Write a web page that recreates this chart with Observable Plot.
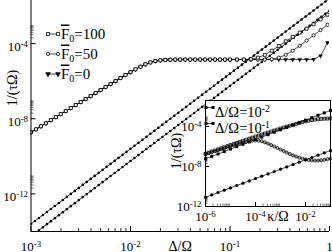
<!DOCTYPE html>
<html><head><meta charset="utf-8">
<script src="https://cdn.jsdelivr.net/npm/d3@7"></script>
<script src="https://cdn.jsdelivr.net/npm/@observablehq/plot@0.6"></script>
<style>
html,body{margin:0;padding:0;background:#fff;}
#wrap{position:relative;width:332px;height:252px;overflow:hidden;background:#fff;}
#wrap svg{position:absolute;}
#wrap svg, #wrap svg text, #wrap svg tspan{font-family:"Liberation Serif","Times New Roman","DejaVu Serif",serif !important;}
</style></head><body><div id="wrap"></div>
<script>
// ---------------- main panel: axes ----------------
const mainXMajor = [1e-3, 1e-2, 1e-1, 1];
const mainXLabels = ["10^-3", "10^-2", "10^-1", "1"];
const mainXMinor = [2e-3,3e-3,4e-3,5e-3,6e-3,7e-3,8e-3,9e-3,2e-2,3e-2,4e-2,5e-2,6e-2,7e-2,8e-2,9e-2,2e-1,3e-1,4e-1,5e-1,6e-1,7e-1,8e-1,9e-1];
const mainYMajor = [1e-12, 1e-8, 1e-4];
const mainYLabels = ["10^-12", "10^-8", "10^-4"];
const mainYMinor = [2e-12,3e-12,4e-12,5e-12,6e-12,7e-12,8e-12,9e-12,2e-8,3e-8,4e-8,5e-8,6e-8,7e-8,8e-8,9e-8,2e-4,3e-4,4e-4,5e-4,6e-4,7e-4,8e-4,9e-4];

// ---------------- main panel: F0 curves (log10 values) ----------------
const lxF = [-3.00,-2.95,-2.90,-2.85,-2.80,-2.75,-2.70,-2.65,-2.60,-2.55,-2.50,-2.45,-2.40,-2.35,-2.30,-2.25,-2.20,-2.15,-2.10,-2.05,-2.00,-1.95,-1.90,-1.85,-1.80,-1.75,-1.70,-1.65,-1.60,-1.55,-1.50,-1.45,-1.40,-1.35,-1.30,-1.25,-1.20,-1.15,-1.10,-1.05,-1.00,
  -0.93,-0.86,-0.79,-0.72,-0.65,-0.58,-0.51,-0.44,-0.37,-0.30,-0.23,-0.16,-0.09,-0.02];
const lyShared = [-8.72,-8.56,-8.40,-8.24,-8.07,-7.91,-7.75,-7.59,-7.43,-7.27,-7.11,-6.95,-6.79,-6.63,-6.47,-6.31,-6.15,-5.99,-5.83,-5.67,-5.52,-5.37,-5.23,-5.10,-5.00,-4.93,-4.89,-4.87,-4.86,-4.85,-4.85,-4.85,-4.85,-4.85,-4.85,-4.85,-4.85,-4.85,-4.85,-4.85,-4.85];
const lyTail100 = [-4.85,-4.85,-4.83,-4.75,-4.60,-4.38,-4.13,-3.88,-3.64,-3.42,-3.21,-2.97,-2.71,-2.46];
const lyTail50  = [-4.85,-4.85,-4.85,-4.85,-4.85,-4.83,-4.75,-4.60,-4.38,-4.12,-3.84,-3.56,-3.28,-3.00];
const lyTail0   = [-4.85,-4.85,-4.85,-4.85,-4.85,-4.85,-4.85,-4.85,-4.85,-4.85,-4.85,-4.84,-4.65,-3.95];

// ---------------- main panel: dotted power-law lines ----------------
const lxD = [-3.00,-2.96,-2.92,-2.88,-2.84,-2.80,-2.76,-2.72,-2.68,-2.64,-2.60,-2.56,-2.52,-2.48,-2.44,-2.40,-2.36,-2.32,-2.28,-2.24,-2.20,-2.16,-2.12,-2.08,-2.04,-2.00,-1.96,-1.92,-1.88,-1.84,-1.80,-1.76,-1.72,-1.68,-1.64,-1.60,-1.56,-1.52,-1.48,-1.44,-1.40,-1.36,-1.32,-1.28,-1.24,-1.20,-1.16,-1.12,-1.08,-1.04,-1.00,-0.96,-0.92,-0.88,-0.84,-0.80,-0.76,-0.72,-0.68,-0.64,-0.60,-0.56,-0.52,-0.48,-0.44,-0.40,-0.36,-0.32,-0.28,-0.24,-0.20,-0.16,-0.12,-0.08,-0.04,0.00];
const lyD1 = [-13.60,-13.44,-13.28,-13.12,-12.96,-12.80,-12.64,-12.48,-12.32,-12.16,-12.00,-11.84,-11.68,-11.52,-11.36,-11.20,-11.04,-10.88,-10.72,-10.56,-10.40,-10.24,-10.08,-9.92,-9.76,-9.60,-9.44,-9.28,-9.12,-8.96,-8.80,-8.64,-8.48,-8.32,-8.16,-8.00,-7.84,-7.68,-7.52,-7.36,-7.20,-7.04,-6.88,-6.72,-6.56,-6.40,-6.24,-6.08,-5.92,-5.76,-5.60,-5.44,-5.28,-5.12,-4.96,-4.80,-4.64,-4.48,-4.32,-4.16,-4.00,-3.84,-3.68,-3.52,-3.36,-3.20,-3.04,-2.88,-2.72,-2.56,-2.40,-2.24,-2.08,-1.92,-1.76,-1.60];
const lyD2 = [-14.25,-14.09,-13.93,-13.77,-13.61,-13.45,-13.29,-13.13,-12.97,-12.81,-12.65,-12.49,-12.33,-12.17,-12.01,-11.85,-11.69,-11.53,-11.37,-11.21,-11.05,-10.89,-10.73,-10.57,-10.41,-10.25,-10.09,-9.93,-9.77,-9.61,-9.45,-9.29,-9.13,-8.97,-8.81,-8.65,-8.49,-8.33,-8.17,-8.01,-7.85,-7.69,-7.53,-7.37,-7.21,-7.05,-6.89,-6.73,-6.57,-6.41,-6.25,-6.09,-5.93,-5.77,-5.61,-5.45,-5.29,-5.13,-4.97,-4.81,-4.65,-4.49,-4.33,-4.17,-4.01,-3.85,-3.69,-3.53,-3.37,-3.21,-3.05,-2.89,-2.73,-2.57,-2.41,-2.25];

// ---------------- inset: axes ----------------
const insetXMajor = [1e-6, 1e-4, 1e-2];
const insetXLabels = ["10^-6", "10^-4", "10^-2"];
const insetXMinor = [2e-6,3e-6,4e-6,5e-6,6e-6,7e-6,8e-6,9e-6,2e-4,3e-4,4e-4,5e-4,6e-4,7e-4,8e-4,9e-4,2e-2,3e-2,4e-2,5e-2,6e-2,7e-2,8e-2,9e-2];
const insetYMajor = [1e-12, 1e-8, 1e-4];
const insetYLabels = ["10^-12", "10^-8", "10^-4"];
const insetYMinor = [2e-12,3e-12,4e-12,5e-12,6e-12,7e-12,8e-12,9e-12,2e-8,3e-8,4e-8,5e-8,6e-8,7e-8,8e-8,9e-8,2e-4,3e-4,4e-4,5e-4,6e-4,7e-4,8e-4,9e-4];

// ---------------- inset: series (log10 values) ----------------
const lkF = [-6.00,-5.75,-5.50,-5.25,-5.00,-4.75,-4.50,-4.25,-4.00,-3.75,-3.50,-3.25,-3.00,-2.75,-2.50,-2.25,-2.00,-1.75,-1.50,-1.25,-1.00];
const lyFilledCirc = [-11.07,-10.84,-10.60,-10.37,-10.14,-9.90,-9.67,-9.44,-9.20,-8.97,-8.74,-8.50,-8.27,-8.04,-7.80,-7.57,-7.34,-7.10,-6.87,-6.64,-6.40];
const lyFilledSq = [-7.23,-6.99,-6.75,-6.51,-6.26,-6.02,-5.78,-5.54,-5.30,-5.06,-4.82,-4.57,-4.33,-4.09,-3.85,-3.61,-3.37,-3.12,-2.88,-2.64,-2.40];
const lkO = [-6.000,-5.875,-5.750,-5.625,-5.500,-5.375,-5.250,-5.125,-5.000,-4.875,-4.750,-4.625,-4.500,-4.375,-4.250,-4.125,-4.000,-3.875,-3.750,-3.625,-3.500,-3.375,-3.250,-3.125,-3.000,-2.875,-2.750,-2.625,-2.500,-2.375,-2.250,-2.125,-2.000,-1.875,-1.750,-1.625,-1.500,-1.375,-1.250,-1.125,-1.000];
const lyOpenSq = [-6.73,-6.62,-6.51,-6.40,-6.29,-6.18,-6.07,-5.96,-5.85,-5.74,-5.64,-5.53,-5.43,-5.32,-5.21,-5.11,-5.00,-4.90,-4.80,-4.70,-4.60,-4.50,-4.40,-4.30,-4.20,-4.10,-4.01,-3.92,-3.83,-3.74,-3.64,-3.55,-3.48,-3.42,-3.36,-3.31,-3.27,-3.24,-3.22,-3.21,-3.20];
const lyOpenCirc = [-6.78,-6.68,-6.58,-6.48,-6.38,-6.28,-6.18,-6.08,-5.98,-5.88,-5.79,-5.70,-5.62,-5.54,-5.47,-5.42,-5.40,-5.42,-5.48,-5.58,-5.71,-5.85,-6.00,-6.15,-6.30,-6.45,-6.60,-6.75,-6.89,-7.01,-7.12,-7.21,-7.29,-7.35,-7.39,-7.41,-7.41,-7.38,-7.33,-7.27,-7.20];

// ---------------- build tables ----------------
const pts = (xs, ys) => xs.map((v, i) => ({x: 10 ** v, y: 10 ** ys[i]}));
const sF100 = pts(lxF, lyShared.concat(lyTail100));
const sF50 = pts(lxF, lyShared.concat(lyTail50));
const sF0 = pts(lxF, lyShared.concat(lyTail0));
const sD1 = pts(lxD, lyD1);
const sD2 = pts(lxD, lyD2);
const iFC = pts(lkF, lyFilledCirc);
const iFS = pts(lkF, lyFilledSq);
const iOS = pts(lkO, lyOpenSq);
const iOC = pts(lkO, lyOpenCirc);

const triDown = {draw(c, size) {
  const s = Math.sqrt(4 * size / Math.sqrt(3));
  const t = s / (2 * Math.sqrt(3));
  c.moveTo(-s / 2, -t); c.lineTo(s / 2, -t); c.lineTo(0, 2 * t); c.closePath();
}};

const FONT = "Liberation Serif, Times New Roman, serif";

// ---------------- main plot ----------------
const W = 332, H = 252, mL = 30.5, mR = 3, mT = 0, mB = 21;
const fw = W - mL - mR, fh = H - mT - mB;
const main = Plot.plot({
  width: W, height: H, marginLeft: mL, marginRight: mR, marginTop: mT, marginBottom: mB,
  x: {type: "log", domain: [1e-3, 1], axis: null},
  y: {type: "log", domain: [1e-14, 10 ** -1.707], axis: null},
  style: {background: "transparent", fontFamily: FONT, fontSize: "13px", color: "black", overflow: "visible"},
  marks: [
    Plot.tickX(mainXMajor, {x: d => d, insetTop: fh - 5, stroke: "black"}),
    Plot.tickX(mainXMinor, {x: d => d, insetTop: fh - 3, stroke: "black", strokeWidth: 0.8}),
    Plot.tickY(mainYMajor, {y: d => d, insetRight: fw - 5, stroke: "black"}),
    Plot.tickY(mainYMinor, {y: d => d, insetRight: fw - 3, stroke: "#555", strokeWidth: 0.8}),
    Plot.line(sD1, {x: "x", y: "y", stroke: "black", strokeWidth: 0.8, clip: true}),
    Plot.dot(sD1, {x: "x", y: "y", r: 1.3, fill: "black", clip: true}),
    Plot.line(sD2, {x: "x", y: "y", stroke: "black", strokeWidth: 0.8, clip: true}),
    Plot.dot(sD2, {x: "x", y: "y", r: 1.3, fill: "black", clip: true}),
    Plot.line(sF0, {x: "x", y: "y", stroke: "black", strokeWidth: 0.7, clip: true}),
    Plot.dot(sF0, {x: "x", y: "y", r: 1.7, symbol: triDown, fill: "black", clip: true}),
    Plot.line(sF50, {x: "x", y: "y", stroke: "black", strokeWidth: 0.7, clip: true}),
    Plot.dot(sF50, {x: "x", y: "y", r: 1.6, fill: "white", stroke: "black", strokeWidth: 0.8, clip: true}),
    Plot.line(sF100, {x: "x", y: "y", stroke: "black", strokeWidth: 0.7, clip: true}),
    Plot.dot(sF100, {x: "x", y: "y", r: 1.7, symbol: "square", fill: "white", stroke: "black", strokeWidth: 0.8, clip: true}),
    Plot.ruleX([1e-3], {stroke: "black"}),
    Plot.ruleY([1e-14], {stroke: "black"}),
    Plot.text(mainXMajor, {x: d => d, text: mainXLabels, frameAnchor: "bottom", lineAnchor: "bottom", dy: 19}),
    Plot.text(mainYMajor, {y: d => d, text: mainYLabels, frameAnchor: "left", textAnchor: "end", dx: -3, dy: 3}),
    Plot.text(["Δ/Ω"], {frameAnchor: "bottom", lineAnchor: "bottom", dy: 19, fontSize: 14})
  ]
});

// ---------------- inset plot ----------------
const iW = 162, iH = 130, imL = 35, imR = 2, imT = 5, imB = 19;
const ifw = iW - imL - imR, ifh = iH - imT - imB;
const inset = Plot.plot({
  width: iW, height: iH, marginLeft: imL, marginRight: imR, marginTop: imT, marginBottom: imB,
  x: {type: "log", domain: [1e-6, 1e-1], axis: null},
  y: {type: "log", domain: [1e-12, 10 ** -1.4], axis: null},
  style: {background: "transparent", fontFamily: FONT, fontSize: "13px", color: "black", overflow: "visible"},
  marks: [
    Plot.frame({fill: "white", stroke: null}),
    Plot.tickX(insetXMajor, {x: d => d, insetTop: ifh - 4, stroke: "black"}),
    Plot.tickX(insetXMinor, {x: d => d, insetTop: ifh - 2.5, stroke: "#555", strokeWidth: 0.8}),
    Plot.tickY(insetYMajor, {y: d => d, insetRight: ifw - 4, stroke: "black"}),
    Plot.tickY(insetYMinor, {y: d => d, insetRight: ifw - 2.5, stroke: "#555", strokeWidth: 0.8}),
    Plot.line(iFC, {x: "x", y: "y", stroke: "black", strokeWidth: 0.7}),
    Plot.dot(iFC, {x: "x", y: "y", r: 1.6, fill: "black"}),
    Plot.line(iFS, {x: "x", y: "y", stroke: "black", strokeWidth: 0.7}),
    Plot.dot(iFS, {x: "x", y: "y", r: 1.7, symbol: "square", fill: "black"}),
    Plot.line(iOS, {x: "x", y: "y", stroke: "black", strokeWidth: 0.6}),
    Plot.dot(iOS, {x: "x", y: "y", r: 1.6, symbol: "square", fill: "none", stroke: "black", strokeWidth: 0.8}),
    Plot.line(iOC, {x: "x", y: "y", stroke: "black", strokeWidth: 0.6}),
    Plot.dot(iOC, {x: "x", y: "y", r: 1.5, fill: "none", stroke: "black", strokeWidth: 0.8}),
    Plot.frame({stroke: "black"}),
    Plot.text(insetXMajor, {x: d => d, text: insetXLabels, frameAnchor: "bottom", lineAnchor: "bottom", dy: 14}),
    Plot.text(insetYMajor, {y: d => d, text: insetYLabels, frameAnchor: "left", textAnchor: "end", dx: -4, dy: 0}),
    Plot.text(["κ/Ω"], {frameAnchor: "bottom", lineAnchor: "bottom", dx: 10, dy: 14, fontSize: 14})
  ]
});

// ---------------- superscripts ----------------
function supify(svg) {
  d3.select(svg).selectAll("text, tspan").filter(function () { return this.children.length === 0; }).each(function () {
    const m = (this.textContent || "").match(/^(.*?)10\^(-?\d+)$/);
    if (!m) return;
    const sel = d3.select(this);
    sel.text(null);
    sel.append("tspan").text(m[1] + "10");
    sel.append("tspan").attr("dy", "-0.45em").attr("font-size", "0.68em").text(m[2]);
  });
}

// ---------------- axis titles (rotated) ----------------
function vTitle(svg, x, y, label) {
  d3.select(svg).append("text")
    .attr("transform", `translate(${x},${y}) rotate(-90)`)
    .attr("text-anchor", "middle").attr("font-size", 14).attr("fill", "black")
    .text(label);
}
vTitle(main, 17, 88, "1/(τΩ)");
vTitle(inset, 11, 56, "1/(τΩ)");

// ---------------- legends ----------------
const mainLegend = [
  {sym: d3.symbolSquare, size: 9.5, fill: "white", sub: "0", rest: "=100"},
  {sym: d3.symbolCircle, size: 8, fill: "white", sub: "0", rest: "=50"},
  {sym: triDown, size: 9, fill: "black", sub: "0", rest: "=0"}
];
{
  const g = d3.select(main).append("g").attr("text-anchor", "start");
  mainLegend.forEach((e, i) => {
    const y = 34 + 20 * i;
    g.append("line").attr("x1", 48).attr("x2", 58).attr("y1", y).attr("y2", y).attr("stroke", "black").attr("stroke-width", 0.7);
    [48, 58].forEach(x => g.append("path").attr("transform", `translate(${x},${y})`)
      .attr("d", d3.symbol(e.sym, e.size)()).attr("fill", e.fill).attr("stroke", "black").attr("stroke-width", 0.8));
    const t = g.append("text").attr("x", 61).attr("y", y + 4.5).attr("font-size", 15).attr("fill", "black").attr("text-anchor", "start");
    t.append("tspan").style("text-decoration", "overline").text("F");
    t.append("tspan").attr("dy", 3.5).attr("font-size", 10).text(e.sub);
    t.append("tspan").attr("dy", -3.5).text(e.rest);
  });
}
const insetLegend = [
  {sym: d3.symbolSquare, size: 9.5, label: "Δ/Ω=10^-2"},
  {sym: d3.symbolSquare, size: 9.5, label: "Δ/Ω=10^-1"}
];
{
  const g = d3.select(inset).append("g").attr("text-anchor", "start");
  insetLegend.forEach((e, i) => {
    const y = 12.5 + 16 * i;
    g.append("line").attr("x1", 36).attr("x2", 43).attr("y1", y).attr("y2", y).attr("stroke", "black").attr("stroke-width", 0.7);
    [36, 43].forEach(x => g.append("path").attr("transform", `translate(${x},${y})`)
      .attr("d", d3.symbol(e.sym, e.size)()).attr("fill", "black"));
    g.append("text").attr("x", 45).attr("y", y + 9).attr("font-size", 14.5).attr("fill", "black").attr("text-anchor", "start").text(e.label);
  });
}
supify(main);
supify(inset);

main.style.left = "0px"; main.style.top = "0px";
inset.style.left = "170px"; inset.style.top = "95px";
const wrap = document.getElementById("wrap");
wrap.appendChild(main);
wrap.appendChild(inset);
</script>
</body></html>
